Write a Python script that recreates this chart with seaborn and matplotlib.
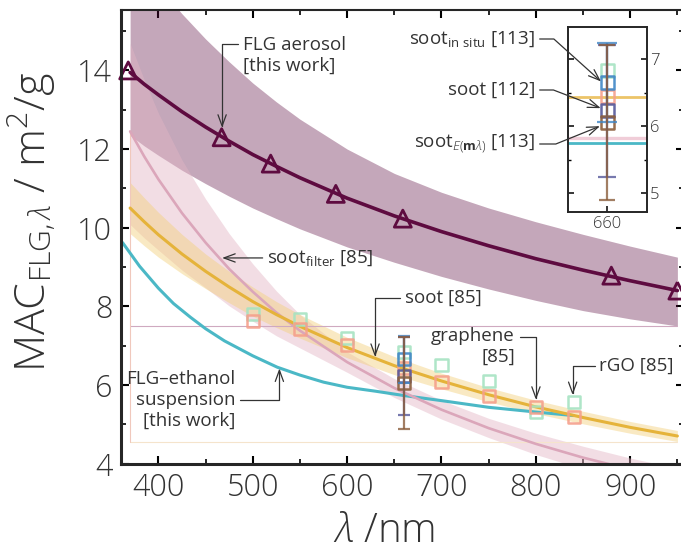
import numpy as np
import pandas as pd
import matplotlib.pyplot as plt
import seaborn as sns
from matplotlib.ticker import MultipleLocator, FixedLocator

# ---- data ----
wl = [370, 385, 400, 425, 450, 475, 500, 525, 550, 600, 650, 700, 750, 800, 850, 900, 950]

# FLG aerosol [this work]
aero_fit = [13.95, 13.65, 13.38, 12.95, 12.56, 12.20, 11.86, 11.56, 11.27, 10.75, 10.30,
            9.90, 9.54, 9.21, 8.92, 8.65, 8.40]
aero_hi = [17.10, 16.60, 16.15, 15.44, 14.80, 14.22, 13.68, 13.20, 12.76, 12.00, 11.38,
           10.90, 10.50, 10.15, 9.83, 9.53, 9.25]
aero_lo = [12.35, 12.08, 11.84, 11.46, 11.12, 10.80, 10.50, 10.23, 9.97, 9.51, 9.12,
           8.76, 8.44, 8.15, 7.89, 7.68, 7.50]
aero_wl = [368, 467, 519, 588, 659, 880, 950]
aero_pts = [14.00, 12.30, 11.63, 10.86, 10.23, 8.78, 8.40]

# soot filter [85]
filt = [12.45, 11.81, 11.23, 10.37, 9.62, 8.95, 8.37, 7.84, 7.38, 6.58, 5.92, 5.37, 4.90,
        4.50, 4.15, 3.85, 3.59]
filt_hi = [14.69, 13.76, 12.91, 11.72, 10.73, 9.85, 9.08, 8.39, 7.79, 6.84, 6.16, 5.61,
           5.15, 4.77, 4.44, 4.14, 3.88]
filt_lo = [10.08, 9.74, 9.43, 8.92, 8.47, 8.01, 7.62, 7.25, 6.94, 6.32, 5.68, 5.13, 4.66,
           4.23, 3.86, 3.56, 3.30]

# soot [85]
soot = [10.50, 10.15, 9.82, 9.33, 8.89, 8.49, 8.12, 7.79, 7.49, 6.95, 6.49, 6.10, 5.75,
        5.44, 5.17, 4.92, 4.70]
soot_hi = [11.15, 10.76, 10.39, 9.83, 9.33, 8.89, 8.49, 8.12, 7.79, 7.21, 6.72, 6.30, 5.93,
           5.61, 5.33, 5.07, 4.84]
soot_lo = [9.85, 9.54, 9.25, 8.83, 8.45, 8.09, 7.75, 7.46, 7.19, 6.69, 6.26, 5.90, 5.57,
           5.27, 5.01, 4.77, 4.56]

# FLG-ethanol suspension [this work]
eth_wl = [362, 380, 400, 416, 434, 450, 470, 500, 526, 550, 575, 600, 630, 660, 700, 750,
          800, 840]
eth = [9.62, 9.02, 8.46, 8.07, 7.72, 7.43, 7.12, 6.74, 6.45, 6.25, 6.07, 5.94, 5.84, 5.73,
       5.60, 5.43, 5.31, 5.22]

# rGO / graphene [85]
sq_wl = [500, 550, 600, 660, 700, 750, 800, 840]
rgo = [7.81, 7.68, 7.20, 6.84, 6.51, 6.11, 5.31, 5.56]
graphene = [7.62, 7.43, 7.02, 6.44, 6.07, 5.71, 5.43, 5.18]

# soot references at 660 nm
ref_mac = [6.65, 6.23, 6.05]          # in situ [113], [112], E(m lambda) [113]
ref_err = [0.59, 0.99, 1.16]
ref_wl = 660

# curve values at 660 nm shown in the inset
inset_soot, inset_filt, inset_eth = 6.43, 5.83, 5.75

# ---- colours ----
MAROON = '#5e0b40'
PINK = '#dba6ba'
PINK_BAND = '#e3b5c5'
GOLD = '#e5b33a'
GOLD_BAND = '#f3d07a'
CYAN = '#4bb8c6'
GREEN = '#a6e3c2'
SALMON = '#f5a08c'
REF_COLORS = ['#3f86c6', '#55589a', '#8b5e3c']
TXT = '#333333'

sns.set_style('ticks')
plt.rcParams['font.family'] = ['Open Sans', 'DejaVu Sans']
plt.rcParams['font.weight'] = 'light'
plt.rcParams['mathtext.fontset'] = 'custom'
plt.rcParams['mathtext.rm'] = 'Open Sans:light'
plt.rcParams['mathtext.it'] = 'Open Sans:italic:light'
plt.rcParams['mathtext.bf'] = 'Open Sans:bold'

fig = plt.figure(figsize=(6.81, 5.53), dpi=100)
ax = fig.add_axes([0.1772, 0.1618, 0.8272, 0.821])

# bands
ax.fill_between(wl, aero_lo, aero_hi, color=MAROON, alpha=0.36, lw=0, zorder=1)
ax.fill_between(wl, filt_lo, filt_hi, color=PINK_BAND, alpha=0.45, lw=0, zorder=1.1)
ax.fill_between(wl, soot_lo, soot_hi, color=GOLD_BAND, alpha=0.45, lw=0, zorder=1.2)

# thin edge lines of the exported bands
ax.plot([wl[0], wl[-1]], [aero_lo[-1]] * 2, color='#cfa9c0', lw=0.8, zorder=1.3)
ax.plot([wl[0], wl[-1]], [soot_lo[-1]] * 2, color='#f5e4cc', lw=0.8, zorder=1.3)
ax.plot([wl[0], wl[0]], [soot_lo[-1], filt[0]], color='#f0c8bc', lw=0.8, zorder=1.3)

# curves
sns.lineplot(x=eth_wl, y=eth, color=CYAN, lw=2.2, ax=ax, zorder=2)
sns.lineplot(x=wl, y=filt, color=PINK, lw=1.9, ax=ax, zorder=2.1)
sns.lineplot(x=wl, y=soot, color=GOLD, lw=2.2, ax=ax, zorder=2.2)
sns.lineplot(x=wl, y=aero_fit, color=MAROON, lw=2.6, ax=ax, zorder=2.3)
sns.scatterplot(x=aero_wl, y=aero_pts, marker='^', s=150, facecolors='none',
                edgecolor=MAROON, linewidth=2.0, ax=ax, zorder=2.4, clip_on=False)

# squares
sns.scatterplot(x=sq_wl, y=rgo, marker='s', s=75, facecolors='none', edgecolor=GREEN,
                linewidth=1.8, alpha=0.9, ax=ax, zorder=3)
sns.scatterplot(x=sq_wl, y=graphene, marker='s', s=75, facecolors='none', edgecolor=SALMON,
                linewidth=1.8, alpha=0.9, ax=ax, zorder=3)
for m, c in zip(ref_mac, REF_COLORS):
    sns.scatterplot(x=[ref_wl], y=[m], marker='s', s=75, facecolors='none', edgecolor=c,
                    linewidth=1.8, alpha=0.9, ax=ax, zorder=3)
for m, e, c in zip(ref_mac, ref_err, REF_COLORS):
    ax.errorbar([ref_wl], [m], yerr=[e], fmt='none', ecolor=c, elinewidth=1.6,
                capsize=4.3, capthick=1.6, alpha=0.8, zorder=3.5)

ax.set_xlim(360, 957)
ax.set_ylim(4, 15.55)
ax.xaxis.set_major_locator(MultipleLocator(100))
ax.xaxis.set_minor_locator(MultipleLocator(50))
ax.yaxis.set_major_locator(MultipleLocator(2))
ax.yaxis.set_minor_locator(MultipleLocator(1))
ax.set_xticks([400, 500, 600, 700, 800, 900])
ax.tick_params(which='both', direction='in', top=True, right=True, color='black')
ax.tick_params(which='major', length=6, width=1.5, labelsize=22, labelcolor=TXT, pad=6)
ax.tick_params(which='minor', length=3.5, width=1.2)
for side in ['left', 'bottom']:
    ax.spines[side].set_linewidth(2.2)
ax.spines['top'].set_linewidth(1.5)
ax.spines['right'].set_linewidth(1.5)
ax.set_xlabel('')
ax.set_ylabel('')

fig.text(0.0477, 0.5995, r'MAC$_{\mathregular{FLG},\lambda}$ / m$^{2}$/g', rotation=90,
         ha='center', va='center', fontsize=31, color=TXT)
fig.text(0.5639, 0.001, r'$\lambda$ /nm', ha='center', va='bottom', fontsize=29, color=TXT)


def note(axis, text, xy, xytext, relpos, conn, ha, tc='data'):
    axis.annotate(text, xy=xy, xytext=xytext, textcoords=tc, ha=ha, va='center',
                  fontsize=13.5, fontweight='normal', color=TXT, annotation_clip=False,
                  zorder=6,
                  arrowprops=dict(arrowstyle='->,head_length=0.6,head_width=0.22',
                                  connectionstyle=conn, relpos=relpos, color=TXT,
                                  lw=0.9, shrinkA=1, shrinkB=0))


note(ax, 'FLG aerosol\n[this work]', (467.5, 12.54), (489.7, 14.39), (0, 0.78),
     'angle,angleA=180,angleB=90', 'left')
note(ax, r'soot$_{\mathregular{filter}}$ [85]', (467.5, 9.23), (515.4, 9.23), (0, 0.5),
     'arc3', 'left')
note(ax, 'soot [85]', (629.6, 6.71), (661.3, 8.22), (0, 0.5),
     'angle,angleA=180,angleB=90', 'left')
note(ax, 'FLG\u2013ethanol\nsuspension\n[this work]', (528.2, 6.42), (481.3, 5.62), (1, 0.5),
     'angle,angleA=0,angleB=90', 'right')
note(ax, 'graphene\n[85]', (800.1, 5.62), (777.9, 6.97), (1, 0.76),
     'angle,angleA=0,angleB=90', 'right')
note(ax, 'rGO [85]', (839, 5.74), (867.2, 6.49), (0, 0.5),
     'angle,angleA=180,angleB=90', 'left')

# ---- inset ----
ins = fig.add_axes([0.8345, 0.6161, 0.1151, 0.3356])
ins.set_facecolor('white')
ins.axhline(inset_filt, color='#f0cdd8', lw=2.4, zorder=1)
ins.axhline(inset_eth, color=CYAN, lw=2.0, zorder=1.1)
ins.axhline(inset_soot, color='#ecc468', lw=2.0, zorder=1.1)
sns.scatterplot(x=[ref_wl], y=[rgo[3]], marker='s', s=85, facecolors='none', edgecolor=GREEN,
                linewidth=1.8, alpha=0.9, ax=ins, zorder=3)
sns.scatterplot(x=[ref_wl], y=[graphene[3]], marker='s', s=85, facecolors='none',
                edgecolor=SALMON, linewidth=1.8, alpha=0.9, ax=ins, zorder=3)
for m, c in zip(ref_mac, REF_COLORS):
    sns.scatterplot(x=[ref_wl], y=[m], marker='s', s=85, facecolors='none', edgecolor=c,
                    linewidth=1.8, alpha=0.9, ax=ins, zorder=3)
for m, e, c, cs in zip(ref_mac, ref_err, REF_COLORS, [7, 6.5, 5.5]):
    ins.errorbar([ref_wl], [m], yerr=[e], fmt='none', ecolor=c, elinewidth=1.6,
                 capsize=cs, capthick=1.6, alpha=0.8, zorder=3.5)
ins.set_xlim(656, 664)
ins.set_ylim(4.71, 7.49)
ins.xaxis.set_major_locator(FixedLocator([660]))
ins.yaxis.set_major_locator(MultipleLocator(1))
ins.yaxis.set_minor_locator(MultipleLocator(0.5))
ins.yaxis.tick_right()
ins.tick_params(which='both', direction='in', left=True, right=True, color='black')
ins.tick_params(which='major', length=4, width=1.1, labelsize=12, labelcolor=TXT, pad=2.5)
ins.tick_params(which='minor', length=2.5, width=1.0)
for s in ins.spines.values():
    s.set_linewidth(1.4)
ins.set_xlabel('')
ins.set_ylabel('')

note(ins, r'soot$_{\mathregular{in\ situ}}$ [113]', (659.34, 6.67), (535, 514), (1, 0.5),
     'angle,angleA=0,angleB=-42', 'right', tc='figure pixels')
note(ins, 'soot [112]', (659.31, 6.27), (535, 463), (1, 0.5),
     'angle,angleA=0,angleB=-21', 'right', tc='figure pixels')
note(ins, r'soot$_{E(\mathbf{m}\lambda)}$ [113]', (659.23, 6.00), (535, 409), (1, 0.5),
     'angle,angleA=0,angleB=22', 'right', tc='figure pixels')

fig.savefig('out.png', dpi=100)
